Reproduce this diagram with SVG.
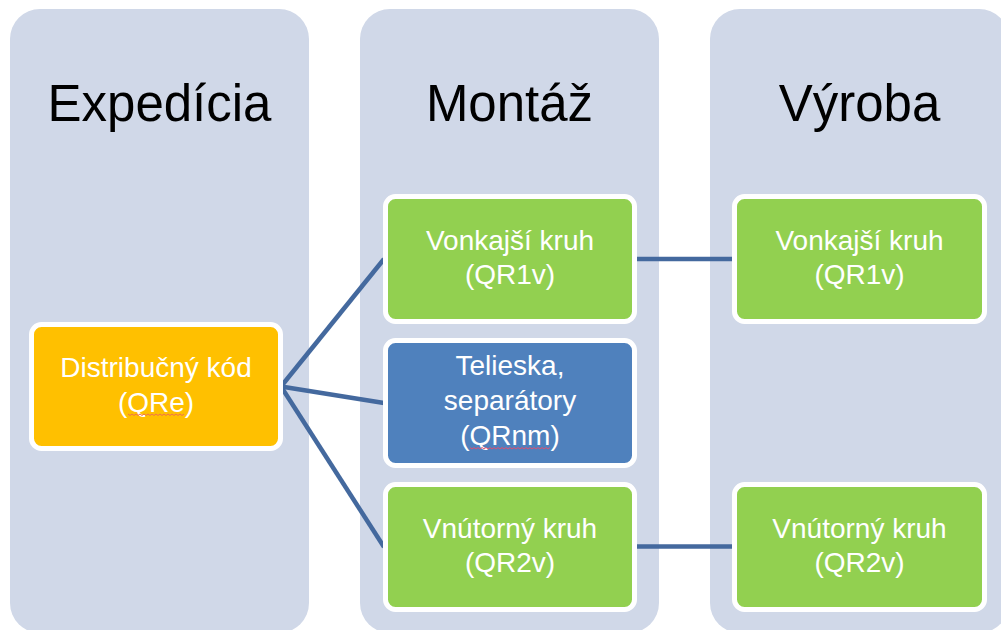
<svg xmlns="http://www.w3.org/2000/svg" width="1001" height="630" viewBox="0 0 1001 630">
  <style>
    .col { fill: #D0D8E8; }
    .title { font-family: "Liberation Sans", Arial, sans-serif; font-size: 51px; fill: #000000; text-anchor: middle; }
    .box { stroke: #FFFFFF; stroke-width: 5; }
    .orange { fill: #FFC000; }
    .green { fill: #92D050; }
    .blue { fill: #4F81BD; }
    .lbl { font-family: "Liberation Sans", Arial, sans-serif; font-size: 28px; fill: #FFFFFF; text-anchor: middle; }
    .conn { stroke: #44699E; stroke-width: 4.5; fill: none; stroke-linecap: butt; }
    .squig { fill: none; stroke-width: 1; }
  </style>
  <rect width="1001" height="630" fill="#FFFFFF"/>

  <g id="col-expedicia">
    <rect class="col" x="10" y="9" width="299" height="624" rx="30" ry="30"/>
    <text class="title" x="159.5" y="121">Expedícia</text>
  </g>
  <g id="col-montaz">
    <rect class="col" x="360" y="9" width="299" height="624" rx="30" ry="30"/>
    <text class="title" x="509.5" y="121">Montáž</text>
  </g>
  <g id="col-vyroba">
    <rect class="col" x="710" y="9" width="299" height="624" rx="30" ry="30"/>
    <text class="title" x="859.5" y="121">Výroba</text>
  </g>

  <g id="connectors">
    <line class="conn" x1="281" y1="386.5" x2="384" y2="259"/>
    <line class="conn" x1="281" y1="386.5" x2="384" y2="403"/>
    <line class="conn" x1="281" y1="386.5" x2="384" y2="547"/>
    <line class="conn" x1="635" y1="259" x2="734" y2="259"/>
    <line class="conn" x1="635" y1="546.5" x2="734" y2="546.5"/>
  </g>

  <g id="node-distribucny">
    <rect class="box orange" x="31.5" y="324.5" width="249" height="124" rx="10" ry="10"/>
    <text class="lbl" x="156" y="377">Distribučný kód</text>
    <text class="lbl" x="156" y="412">(QRe)</text>
    <polyline class="squig" stroke="#F07050" points="128,414 130,415.5 132,414 134,415.5 136,414 138,415.5 140,414 142,415.5 144,414 146,415.5 148,414 150,415.5 152,414 154,415.5 156,414 158,415.5 160,414 162,415.5 164,414 166,415.5 168,414 170,415.5 172,414 174,415.5 176,414 178,415.5 180,414 182,415.5 184,414"/>
  </g>

  <g id="node-m-vonkajsi">
    <rect class="box green" x="385.5" y="196.5" width="249" height="125" rx="10" ry="10"/>
    <text class="lbl" x="510" y="249.5">Vonkajší kruh</text>
    <text class="lbl" x="510" y="283.5">(QR1v)</text>
  </g>

  <g id="node-m-telieska">
    <rect class="box blue" x="385.5" y="340.5" width="249" height="125" rx="10" ry="10"/>
    <text class="lbl" x="510" y="375">Telieska,</text>
    <text class="lbl" x="510" y="410">separátory</text>
    <text class="lbl" x="510" y="445">(QRnm)</text>
    <polyline class="squig" stroke="#E05070" points="470,447.5 472,449 474,447.5 476,449 478,447.5 480,449 482,447.5 484,449 486,447.5 488,449 490,447.5 492,449 494,447.5 496,449 498,447.5 500,449 502,447.5 504,449 506,447.5 508,449 510,447.5 512,449 514,447.5 516,449 518,447.5 520,449 522,447.5 524,449 526,447.5 528,449 530,447.5 532,449 534,447.5 536,449 538,447.5 540,449 542,447.5 544,449 546,447.5 548,449 550,447.5"/>
  </g>

  <g id="node-m-vnutorny">
    <rect class="box green" x="385.5" y="484.5" width="249" height="125" rx="10" ry="10"/>
    <text class="lbl" x="510" y="537.5">Vnútorný kruh</text>
    <text class="lbl" x="510" y="571.5">(QR2v)</text>
  </g>

  <g id="node-v-vonkajsi">
    <rect class="box green" x="734.5" y="196.5" width="250" height="125" rx="10" ry="10"/>
    <text class="lbl" x="859.5" y="249.5">Vonkajší kruh</text>
    <text class="lbl" x="859.5" y="283.5">(QR1v)</text>
  </g>

  <g id="node-v-vnutorny">
    <rect class="box green" x="734.5" y="484.5" width="250" height="125" rx="10" ry="10"/>
    <text class="lbl" x="859.5" y="537.5">Vnútorný kruh</text>
    <text class="lbl" x="859.5" y="571.5">(QR2v)</text>
  </g>
</svg>
